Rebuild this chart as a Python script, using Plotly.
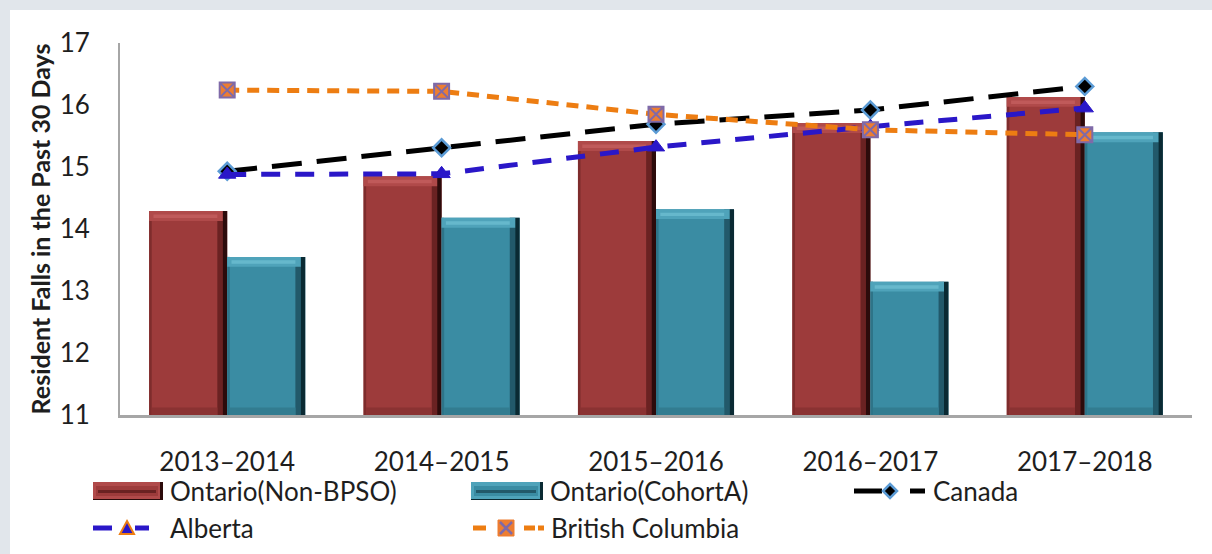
import plotly.graph_objects as go

# data
years = ["2013\u20132014", "2014\u20132015", "2015\u20132016", "2016\u20132017", "2017\u20132018"]
ontario_non_bpso = [14.29, 14.85, 15.42, 15.71, 16.13]
ontario_cohort_a = [13.55, 14.18, 14.32, 13.15, 15.56]
canada = [14.93, 15.31, 15.69, 15.92, 16.30]
alberta = [14.88, 14.89, 15.32, 15.65, 15.95]
british_columbia = [16.24, 16.22, 15.85, 15.60, 15.52]
y_ticks = [11, 12, 13, 14, 15, 16, 17]

FONT = "Lato"
W, H = 1212, 554
ML, MR, MT, MB = 120, 20, 43, 139
Y0 = 11
bar_w = 0.364

red = dict(main="#9d3b3b", top="#b04a4a", hi="#c05a5a", left="#7e2c2c",
           right1="#6a2222", right2="#2c0b0b", bottom="#8a3232")
teal = dict(main="#3a8ca3", top="#4fa3ba", hi="#66b8cc", left="#2e7488",
            right1="#22596a", right2="#0a2a33", bottom="#327c90")


def px_x(px):
    return (px - ML) / (W - ML - MR)


def px_y(py):
    return (H - MB - py) / (H - MT - MB)


fig = go.Figure()


def bevel_bar(vals, offset, c):
    heights = [v - Y0 for v in vals]
    vb = 0.16   # vertical bevel (data units)
    hb = 0.046  # horizontal bevel (category units)
    layers = [
        # (base, height, offset, width, colour)
        ([Y0] * 5, heights, offset, bar_w, c["main"]),
        ([Y0] * 5, heights, offset, 0.012, c["left"]),
        ([Y0] * 5, heights, offset + bar_w - hb, hb * 0.55, c["right1"]),
        ([Y0] * 5, heights, offset + bar_w - hb * 0.45, hb * 0.45, c["right2"]),
        ([Y0] * 5, [0.12] * 5, offset + 0.012, bar_w - hb - 0.012, c["bottom"]),
        ([v - vb for v in vals], [vb] * 5, offset, bar_w - hb * 0.45, c["top"]),
        ([v - vb * 0.7 for v in vals], [vb * 0.35] * 5, offset + 0.02, bar_w - hb - 0.02, c["hi"]),
    ]
    for base, hts, off, wd, col in layers:
        fig.add_trace(go.Bar(
            x=years, y=hts, base=base, offset=off, width=wd,
            marker=dict(color=col, line=dict(width=0)),
            showlegend=False, hoverinfo="skip"
        ))


bevel_bar(ontario_non_bpso, -bar_w, red)
bevel_bar(ontario_cohort_a, 0, teal)

fig.add_trace(go.Scatter(
    x=years, y=canada, mode="lines+markers", name="Canada",
    line=dict(color="black", width=5, dash="30px,15px"),
    marker=dict(symbol="diamond", size=13, color="black", line=dict(color="#5b9bd5", width=2.5)),
    showlegend=False
))
fig.add_trace(go.Scatter(
    x=years, y=alberta, mode="lines+markers", name="Alberta",
    line=dict(color="#2a17c8", width=5, dash="19px,15px"),
    marker=dict(symbol="triangle-up", size=15, color="#2a17c8", line=dict(color="#2a17c8", width=1)),
    showlegend=False
))
fig.add_trace(go.Scatter(
    x=years, y=british_columbia, mode="lines+markers", name="British Columbia",
    line=dict(color="#ed7d12", width=5, dash="12px,8px"),
    marker=dict(symbol="square-x", size=15, color="#ed7d31", line=dict(color="#7f6aa8", width=2)),
    showlegend=False
))

shapes = []
# grey frame with white card
shapes.append(dict(type="rect", xref="paper", yref="paper",
                   x0=px_x(10), x1=px_x(W + 5), y0=px_y(H + 5), y1=px_y(10),
                   fillcolor="white", line=dict(width=0), layer="below"))

annotations = []


def legend_text(px, py, text):
    annotations.append(dict(text=text, xref="paper", yref="paper", x=px_x(px), y=px_y(py),
                            xanchor="left", yanchor="middle", showarrow=False,
                            font=dict(family=FONT, size=26, color="#1e1e1e")))


def legend_bar(x0, x1, yc, c):
    shapes.append(dict(type="rect", xref="paper", yref="paper",
                       x0=px_x(x0), x1=px_x(x1), y0=px_y(yc + 9), y1=px_y(yc - 9),
                       fillcolor=c["right2"], line=dict(width=0)))
    shapes.append(dict(type="rect", xref="paper", yref="paper",
                       x0=px_x(x0), x1=px_x(x1 - 3), y0=px_y(yc + 8), y1=px_y(yc - 9),
                       fillcolor=c["top"], line=dict(width=0)))
    shapes.append(dict(type="rect", xref="paper", yref="paper",
                       x0=px_x(x0 + 3), x1=px_x(x1 - 5), y0=px_y(yc + 5), y1=px_y(yc - 5),
                       fillcolor=c["main"], line=dict(width=0)))
    shapes.append(dict(type="rect", xref="paper", yref="paper",
                       x0=px_x(x0 + 5), x1=px_x(x1 - 7), y0=px_y(yc + 2), y1=px_y(yc - 1),
                       fillcolor=c["right1"], line=dict(width=0)))


def legend_line(x0, x1, yc, color):
    shapes.append(dict(type="line", xref="paper", yref="paper",
                       x0=px_x(x0), x1=px_x(x1), y0=px_y(yc), y1=px_y(yc),
                       line=dict(color=color, width=5)))


def legend_marker(xc, yc, path, fill, edge, ew):
    shapes.append(dict(type="path", xref="paper", yref="paper",
                       xsizemode="pixel", ysizemode="pixel",
                       xanchor=px_x(xc), yanchor=px_y(yc), path=path,
                       fillcolor=fill, line=dict(color=edge, width=ew)))


row1, row2 = 491, 528
legend_bar(93, 163, row1, red)
legend_text(168, row1, "Ontario(Non-BPSO)")
legend_bar(471, 543, row1, teal)
legend_text(548, row1, "Ontario(CohortA)")

legend_line(854, 882, row1, "black")
legend_line(910, 925, row1, "black")
legend_marker(890, row1, "M0,7 L7,0 L0,-7 L-7,0 Z", "black", "#5b9bd5", 2.5)
legend_text(931, row1, "Canada")

legend_line(93, 112, row2, "#2a17c8")
legend_line(135, 149, row2, "#2a17c8")
legend_marker(127, row2 + 1, "M0,8 L7,-5 L-7,-5 Z", "#2a17c8", "#ed7d12", 2)
legend_text(168, row2, "Alberta")

legend_line(473, 486, row2, "#ed7d12")
legend_line(524, 535, row2, "#ed7d12")
legend_line(538, 544, row2, "#ed7d12")
legend_marker(506, row2, "M-8,-8 L8,-8 L8,8 L-8,8 Z", "#ed7d31", "#ed7d31", 1)
legend_marker(506, row2, "M-6,-6 L6,6 M-6,6 L6,-6", "rgba(0,0,0,0)", "#7f6aa8", 2.5)
legend_text(549, row2, "British Columbia")

fig.update_xaxes(
    type="category", range=[-0.5, 4.5],
    showline=True, linecolor="#a6a6a6", linewidth=3,
    showgrid=False, ticks="", ticklabelstandoff=22,
    tickfont=dict(family=FONT, size=26, color="#1e1e1e")
)
fig.update_yaxes(
    range=[11, 17], tickvals=y_ticks,
    showline=True, linecolor="#a6a6a6", linewidth=2,
    showgrid=False, zeroline=False, ticks="", ticklabelstandoff=23,
    tickfont=dict(family=FONT, size=26, color="#1e1e1e"),
    title=dict(text="<b>Resident Falls in the Past 30 Days</b>", standoff=2,
               font=dict(family=FONT, size=25, color="#1e1e1e"))
)

fig.update_layout(
    width=W, height=H,
    barmode="overlay",
    showlegend=False,
    paper_bgcolor="#e1e6eb",
    plot_bgcolor="white",
    margin=dict(l=ML, r=MR, t=MT, b=MB),
    shapes=shapes,
    annotations=annotations,
)

fig.write_html("out.html", config={"displayModeBar": False},
               post_script="document.body.style.margin='0';")
